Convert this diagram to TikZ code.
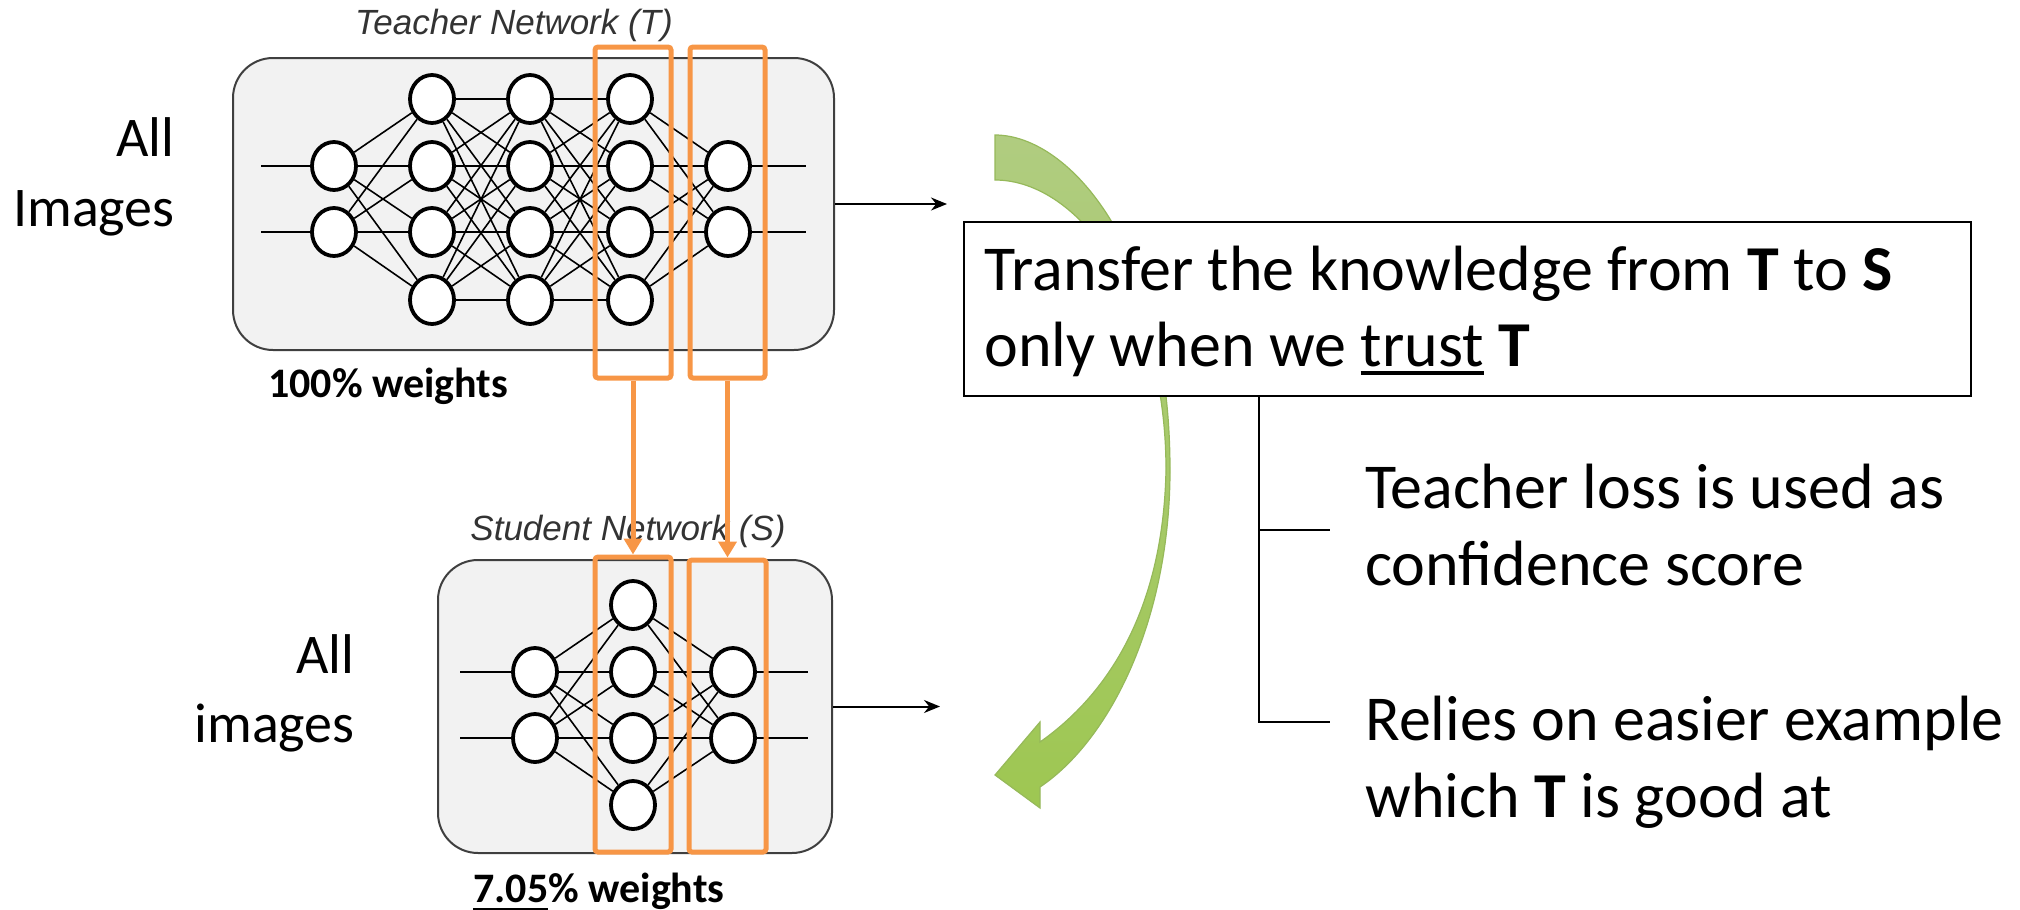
\documentclass[tikz,border=0pt]{standalone}
\usepackage{fontspec}
\setmainfont{Carlito}
\newfontfamily\netfont{Liberation Sans}
\usetikzlibrary{shapes.geometric,arrows.meta,calc}

% underline drawn as a rule of chosen thickness
\newsavebox{\ulbox}
\newcommand{\ulword}[2][1.8pt]{\leavevmode\sbox{\ulbox}{#2}%
  \rlap{\rule[-4.4pt]{\wd\ulbox}{#1}}\usebox{\ulbox}}

\definecolor{panelgray}{HTML}{F2F2F2}
\definecolor{paneledge}{HTML}{3F3F3F}
\definecolor{hilite}{HTML}{F79646}
\definecolor{titlegray}{HTML}{333333}
\definecolor{leafA}{RGB}{176,204,128}
\definecolor{leafB}{RGB}{192,228,122}
\definecolor{leafC}{RGB}{158,199,82}
\definecolor{leafedge}{RGB}{150,185,90}

\tikzset{
  panel/.style={draw=paneledge, line width=1pt, fill=panelgray, rounded corners=20pt, inner sep=0pt},
  neuron/.style={ellipse, draw=black, line width=1.9pt, fill=white,
    minimum width=22pt, minimum height=24pt, inner sep=0pt},
  synapse/.style={line width=0.8pt, black},
  wire/.style={line width=1.1pt, black},
  layerbox/.style={draw=hilite, line width=2.5pt, rounded corners=1.5pt, inner sep=0pt},
  transfer/.style={hilite, line width=2.5pt, -{Triangle[length=8pt,width=9pt]}},
  outarrow/.style={line width=1pt, -{Stealth[length=8pt,width=6.5pt]}},
  nettitle/.style={font=\netfont\itshape\fontsize{17.5}{21}\selectfont, text=titlegray, inner sep=0pt},
  biglabel/.style={font=\fontsize{32}{38}\selectfont, inner sep=0pt},
  sidelabel/.style={font=\fontsize{28}{35}\selectfont, inner sep=0pt},
  weightlabel/.style={font=\bfseries\fontsize{21}{25}\selectfont, inner sep=0pt},
  notebox/.style={draw=black, line width=1pt, fill=white, inner sep=0pt},
  bracket/.style={line width=1pt, black},
}

\begin{document}
\begin{tikzpicture}[x=0.5pt, y=-0.5pt]
\useasboundingbox (0,0) rectangle (2020,910);

% ---------- curved green arrow, behind the note box ----------
\path[shade, top color=leafA, middle color=leafB, bottom color=leafC,
      draw=leafedge, line width=0.6pt]
  (995,135) .. controls (1070,135) and (1170,250) .. (1170,470)
  .. controls (1170,620) and (1110,740) .. (1040,787)
  -- (1040,808) -- (995,775) -- (1040,722) -- (1040,742)
  .. controls (1100,700) and (1163,620) .. (1166,470)
  .. controls (1166,300) and (1080,180) .. (995,180) -- cycle;

% ---------- teacher network ----------
\node[nettitle, anchor=base] (ttitle) at (514,34) {Teacher Network (T)};
\node[panel, minimum width=300.5pt, minimum height=146pt] (tpanel) at (533.5,204) {};

\foreach \y [count=\i] in {166,232} \node[neuron] (t1-\i) at (334,\y) {};
\foreach \x [count=\l from 2] in {432,530,630}
  \foreach \y [count=\i] in {99,166,232,300} \node[neuron] (t\l-\i) at (\x,\y) {};
\foreach \y [count=\i] in {166,232} \node[neuron] (t5-\i) at (728,\y) {};

\foreach \b in {1,...,4} {
  \foreach \a in {1,2} \draw[synapse] (t1-\a) -- (t2-\b);
  \foreach \c in {1,...,4} {
    \draw[synapse] (t2-\b) -- (t3-\c);
    \draw[synapse] (t3-\b) -- (t4-\c);
  }
  \foreach \a in {1,2} \draw[synapse] (t4-\b) -- (t5-\a);
}
\foreach \y [count=\i] in {166,232} {
  \coordinate (tin\i) at (261,\y);
  \coordinate (tend\i) at (806,\y);
  \draw[wire] (tin\i) -- (t1-\i);
  \draw[wire] (t5-\i) -- (tend\i);
}

\node[layerbox, minimum width=38pt, minimum height=165.5pt] (tk4) at (633,212.5) {};
\node[layerbox, minimum width=37.5pt, minimum height=165.5pt] (tk5) at (727.5,212.5) {};

\coordinate (tout) at (947,204);
\draw[outarrow] (tpanel.east) -- (tout);

\node[sidelabel, anchor=base east] (tall) at (175,156) {All};
\node[sidelabel, anchor=base east] (timg) at (175,226) {Images};
\node[weightlabel, anchor=base west] (tw) at (268,397) {100\% weights};

% ---------- student network ----------
\node[nettitle, anchor=base] (stitle) at (628,540) {Student Network (S)};
\node[panel, minimum width=197pt, minimum height=146.5pt] (spanel) at (635,706.5) {};

\foreach \y [count=\i] in {672,738} \node[neuron] (s1-\i) at (535,\y) {};
\foreach \y [count=\i] in {605,672,738,805} \node[neuron] (s2-\i) at (633,\y) {};
\foreach \y [count=\i] in {672,738} \node[neuron] (s3-\i) at (733,\y) {};

\foreach \b in {1,...,4}
  \foreach \a in {1,2} {
    \draw[synapse] (s1-\a) -- (s2-\b);
    \draw[synapse] (s2-\b) -- (s3-\a);
  }
\foreach \y [count=\i] in {672,738} {
  \coordinate (sin\i) at (460,\y);
  \coordinate (send\i) at (808,\y);
  \draw[wire] (sin\i) -- (s1-\i);
  \draw[wire] (s3-\i) -- (send\i);
}

\node[layerbox, minimum width=38pt, minimum height=147.5pt] (sk2) at (633,704.5) {};
\node[layerbox, minimum width=38.5pt, minimum height=146pt] (sk3) at (727.5,706) {};

\coordinate (sout) at (940,706.5);
\draw[outarrow] (spanel.east) -- (sout);

\node[sidelabel, anchor=base east] (sall) at (355,673) {All};
\node[sidelabel, anchor=base east] (simg) at (355,742) {images};
\node[weightlabel, anchor=base west] (sw) at (473,902) {\ulword[1.2pt]{7.05}\% weights};

% ---------- layer transfer ----------
\draw[transfer] (tk4.south) -- (sk2.north);
\draw[transfer] (tk5.south) -- (sk3.north);

% ---------- note box and its two points ----------
\node[notebox, minimum width=503.5pt, minimum height=87pt] (note) at (1467.5,309) {};
\node[biglabel, anchor=base west] (note1) at (984,290)
  {Transfer the knowledge from \textbf{T} to \textbf{S}};
\node[biglabel, anchor=base west] (note2) at (984,366)
  {only when we \ulword{trust} \textbf{T}};

\coordinate (br1) at (1259,530);
\coordinate (br1e) at (1330,530);
\coordinate (br2) at (1259,722);
\coordinate (br2e) at (1330,722);
\draw[bracket] (note.south -| br2) -- (br2) -- (br2e);
\draw[bracket] (br1) -- (br1e);

\node[biglabel, anchor=base west] (p1a) at (1365,508) {Teacher loss is used as};
\node[biglabel, anchor=base west] (p1b) at (1365,585) {confidence score};
\node[biglabel, anchor=base west] (p2a) at (1365,740) {Relies on easier example};
\node[biglabel, anchor=base west] (p2b) at (1365,817) {which \textbf{T} is good at};
\end{tikzpicture}
\end{document}
